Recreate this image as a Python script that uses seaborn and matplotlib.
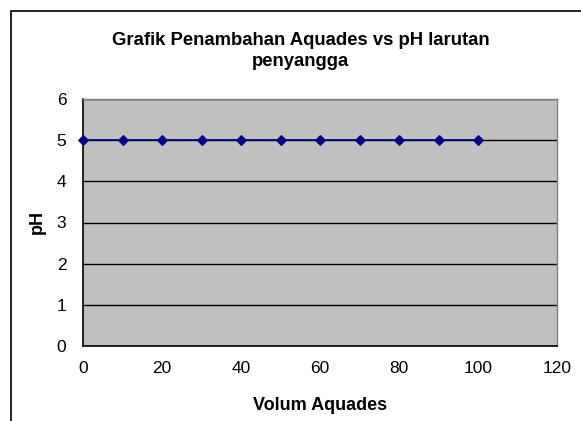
import matplotlib
matplotlib.use("Agg")
import matplotlib.pyplot as plt
import seaborn as sns
import pandas as pd
from matplotlib.patches import Rectangle

# data
volum_aquades = [0, 10, 20, 30, 40, 50, 60, 70, 80, 90, 100]
ph_values = [5, 5, 5, 5, 5, 5, 5, 5, 5, 5, 5]
x_ticks = [0, 20, 40, 60, 80, 100, 120]
y_ticks = [0, 1, 2, 3, 4, 5, 6]

sns.set_style("white")
plt.rcParams['font.family'] = ['Liberation Sans', 'DejaVu Sans']
plt.rcParams['text.color'] = 'black'
plt.rcParams['axes.labelcolor'] = 'black'
plt.rcParams['xtick.color'] = 'black'
plt.rcParams['ytick.color'] = 'black'

df = pd.DataFrame({'Volum Aquades': volum_aquades, 'pH': ph_values})

fig = plt.figure(figsize=(5.81, 4.21), dpi=100)
# bingkai chart
fig.patches.append(Rectangle((11 / 581, -0.1), 1.0, 1 - 11 / 421 + 0.1,
                             transform=fig.transFigure, fill=False,
                             edgecolor='black', linewidth=1.2))

ax = fig.add_axes([83 / 581, 75 / 421, 474 / 581, 247 / 421])
ax.set_facecolor('#c0c0c0')

sns.lineplot(data=df, x='Volum Aquades', y='pH', ax=ax, color='#000080',
             marker='D', markersize=5, markeredgecolor='#000080', linewidth=1.2,
             clip_on=False, zorder=5)

ax.set_xlim(0, 120)
ax.set_ylim(0, 6)
ax.set_xticks(x_ticks)
ax.set_yticks(y_ticks)
ax.yaxis.grid(True, color='black', linewidth=1)
ax.set_axisbelow(True)
ax.tick_params(axis='x', direction='in', length=5, width=1,
               labelsize=12.5, pad=11)
ax.tick_params(axis='y', length=0, labelsize=12.5, pad=12)

for side in ['left', 'bottom']:
    ax.spines[side].set_color('black')
    ax.spines[side].set_linewidth(1.2)
for side in ['top', 'right']:
    ax.spines[side].set_color('#808080')
    ax.spines[side].set_linewidth(1)

ax.set_xlabel('Volum Aquades', fontsize=13, fontweight='bold', labelpad=15)
ax.set_ylabel('pH', fontsize=13, fontweight='bold', labelpad=8)

fig.text(0.517, 0.925, 'Grafik Penambahan Aquades vs pH larutan\npenyangga',
         ha='center', va='top', fontsize=13.3, fontweight='bold', linespacing=1.32)

fig.savefig('out.png', dpi=100)
